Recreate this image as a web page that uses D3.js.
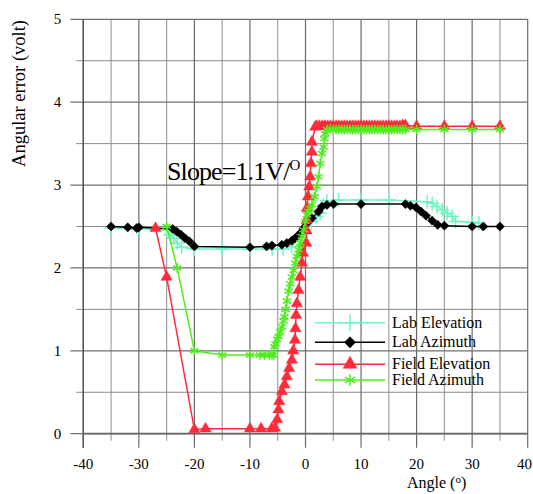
<!DOCTYPE html>
<html>
<head>
<meta charset="utf-8">
<script src="https://cdn.jsdelivr.net/npm/d3@7"></script>
<style>
  body { margin: 0; background: #fff; }
  text { font-family: "Liberation Serif", "Times New Roman", serif; }
</style>
</head>
<body>
<div id="chart"></div>
<script>
// angle (deg), angular error (volt)
const labElevation = [
  [-35, 2.48], [-30, 2.47], [-25, 2.46], [-24.4, 2.40], [-23.7, 2.36], [-23.1, 2.30], [-22.3, 2.25],
  [-20, 2.23], [-15, 2.23], [-10, 2.23], [-6, 2.23], [-4, 2.23], [-2.5, 2.26], [-1, 2.36], [0, 2.46],
  [1, 2.56], [2, 2.62], [2.65, 2.66], [3.2, 2.76], [3.85, 2.81], [5.95, 2.82], [10, 2.82], [15, 2.82],
  [21.9, 2.80], [22.8, 2.78], [23.7, 2.74], [24.6, 2.70], [25.5, 2.66], [26.4, 2.62], [27, 2.56],
  [30, 2.55], [31.2, 2.54]
];
const labAzimuth = [
  [-35, 2.5], [-32, 2.49], [-30.4, 2.48], [-30, 2.49], [-23.9, 2.47], [-23.2, 2.44], [-22.4, 2.40],
  [-21.7, 2.36], [-20.9, 2.32], [-20, 2.26], [-10, 2.25], [-7, 2.26], [-6.05, 2.27], [-4.25, 2.28],
  [-3.35, 2.30], [-2.45, 2.33], [-1.86, 2.36], [-0.95, 2.42], [-0.36, 2.48], [0.25, 2.54], [1.15, 2.60],
  [2.34, 2.68], [2.95, 2.74], [3.85, 2.76], [5.05, 2.77], [10, 2.77], [18, 2.77], [18.9, 2.75],
  [19.9, 2.73], [20.8, 2.68], [21.7, 2.63], [22.8, 2.57], [23.8, 2.52], [25, 2.51], [30, 2.5],
  [32, 2.5], [35, 2.5]
];
const fieldElevation = [
  [-27, 2.48], [-25, 1.89], [-20, 0.05], [-18, 0.06], [-10, 0.06], [-8, 0.06], [-6.1, 0.06], [-5.5, 0.07],
  [-5.1, 0.17], [-4.86, 0.29], [-4.74, 0.39], [-4.25, 0.51], [-3.78, 0.59], [-3.35, 0.69], [-2.94, 0.79],
  [-2.45, 0.89], [-2.2, 1.0], [-1.9, 1.13], [-1.8, 1.27], [-1.7, 1.43], [-1.55, 1.57], [-1.26, 1.73],
  [-0.95, 1.89], [-0.65, 2.06], [-0.47, 2.18], [0.13, 2.30], [0.2, 2.45], [0.22, 2.58], [0.25, 2.72],
  [0.43, 2.86], [0.67, 2.98], [0.85, 3.10], [0.97, 3.26], [1.15, 3.40], [1.15, 3.52], [1.75, 3.70],
  [2, 3.71], [2.5, 3.71], [3, 3.71], [3.5, 3.71], [4, 3.71], [4.5, 3.71], [5, 3.71], [5.5, 3.71],
  [6, 3.71], [6.5, 3.71], [7, 3.71], [7.5, 3.71], [8, 3.71], [8.5, 3.71], [9, 3.71], [9.5, 3.71],
  [10, 3.71], [10.5, 3.71], [11, 3.71], [11.5, 3.71], [12, 3.71], [12.5, 3.71], [13, 3.71], [13.5, 3.71],
  [14, 3.71], [14.5, 3.71], [15, 3.71], [15.5, 3.71], [16, 3.71], [16.5, 3.71], [17, 3.71], [17.5, 3.72],
  [18, 3.72], [20, 3.71], [25, 3.71], [30, 3.71], [35, 3.71]
];
const fieldAzimuth = [
  [-25, 2.5], [-23.1, 2.0], [-20, 1.0], [-15, 0.95], [-10, 0.95], [-8.2, 0.95], [-7.4, 0.95], [-6.5, 0.95],
  [-6.05, 0.95], [-5.7, 0.95], [-5.6, 1.05], [-5.4, 1.08], [-5.1, 1.14], [-4.86, 1.17], [-4.55, 1.23],
  [-4.25, 1.29], [-3.95, 1.36], [-3.8, 1.41], [-3.6, 1.50], [-3.35, 1.60], [-3.05, 1.72], [-2.76, 1.81],
  [-2.45, 1.89], [-2.16, 1.97], [-1.85, 2.06], [-1.55, 2.14], [-1.25, 2.22], [-0.95, 2.30], [-0.65, 2.38],
  [-0.36, 2.46], [-0.05, 2.56], [0.25, 2.64], [0.54, 2.68], [0.85, 2.72], [1.15, 2.76], [1.62, 2.86],
  [2.05, 2.98], [2.34, 3.10], [2.65, 3.26], [2.95, 3.38], [3.24, 3.46], [3.4, 3.56], [3.55, 3.62],
  [3.86, 3.67], [4.45, 3.68], [5, 3.67], [5.5, 3.67], [6, 3.67], [6.5, 3.67], [7, 3.67], [7.5, 3.67],
  [8, 3.67], [8.5, 3.67], [9, 3.67], [9.5, 3.67], [10, 3.67], [10.5, 3.67], [11, 3.67], [11.5, 3.67],
  [12, 3.67], [12.5, 3.67], [13, 3.67], [13.5, 3.67], [14, 3.67], [14.5, 3.67], [15, 3.67], [15.5, 3.67],
  [16, 3.67], [16.5, 3.67], [17, 3.67], [17.5, 3.67], [18, 3.67], [20, 3.67], [25, 3.67], [30, 3.67],
  [35, 3.67]
];

const xTicks = [-40, -30, -20, -10, 0, 10, 20, 30, 40];
const yTicks = [0, 1, 2, 3, 4, 5];

const series = [
  { name: "Lab Elevation", data: labElevation, color: "#70f5c2", symbol: d3.symbolPlus, size: 64, stroke: true },
  { name: "Lab Azimuth", data: labAzimuth, color: "#000000", symbol: d3.symbolSquare, size: 42, rotate: 45 },
  { name: "Field Elevation", data: fieldElevation, color: "#ff2a3a", symbol: d3.symbolTriangle, size: 55 },
  { name: "Field Azimuth", data: fieldAzimuth, color: "#4eee1c", symbol: d3.symbolAsterisk, size: 64, stroke: true }
];

const W = 533, H = 494;
const margin = { top: 19.3, right: 5.3, bottom: 60.3, left: 83.3 };
const width = W - margin.left - margin.right,
      height = H - margin.top - margin.bottom;

const svg = d3.select("#chart").append("svg")
    .attr("width", W).attr("height", H);
const g = svg.append("g")
    .attr("transform", "translate(" + margin.left + "," + margin.top + ")");

const x = d3.scaleLinear().domain([-40, 40]).range([0, width]);
const y = d3.scaleLinear().domain([0, 5]).range([height, 0]);

// grid: minor first, then major on top
const minorX = d3.range(-35, 40, 10), minorY = d3.range(0.5, 5, 1);
g.selectAll(".gxm").data(minorX).enter().append("line")
    .attr("x1", d => x(d)).attr("x2", d => x(d)).attr("y1", 0).attr("y2", height + 7)
    .attr("stroke", "#a0a0a0").attr("stroke-width", 1.2);
g.selectAll(".gym").data(minorY).enter().append("line")
    .attr("x1", -7).attr("x2", width).attr("y1", d => y(d)).attr("y2", d => y(d))
    .attr("stroke", "#8a8a8a").attr("stroke-width", 1);
g.selectAll(".gx").data(xTicks).enter().append("line")
    .attr("x1", d => x(d)).attr("x2", d => x(d)).attr("y1", 0).attr("y2", height + 14)
    .attr("stroke", "#6a6a6a").attr("stroke-width", 1.2);
g.selectAll(".gy").data(yTicks).enter().append("line")
    .attr("x1", -13).attr("x2", width).attr("y1", d => y(d)).attr("y2", d => y(d))
    .attr("stroke", "#707070").attr("stroke-width", 1.2);

// axes frame
g.append("line").attr("x1", 0).attr("x2", width).attr("y1", height).attr("y2", height)
    .attr("stroke", "#666").attr("stroke-width", 1.8);
g.append("line").attr("x1", 0).attr("x2", 0).attr("y1", 0).attr("y2", height + 14)
    .attr("stroke", "#555").attr("stroke-width", 1.4);

// tick labels (last one kept inside the page edge)
g.selectAll(".xl").data(xTicks).enter().append("text")
    .attr("x", (d, i) => i === xTicks.length - 1 ? W - margin.left - 1 : x(d))
    .attr("y", height + 35)
    .attr("text-anchor", (d, i) => i === xTicks.length - 1 ? "end" : "middle")
    .attr("font-size", 15)
    .text(d => d);
g.selectAll(".yl").data(yTicks).enter().append("text")
    .attr("x", -22).attr("y", d => y(d) + 5)
    .attr("text-anchor", "end").attr("font-size", 15)
    .text(d => d);

// axis titles
const xt = svg.append("text").attr("x", 407).attr("y", 488).attr("font-size", 16);
xt.append("tspan").text("Angle (");
xt.append("tspan").attr("font-size", 11).attr("dy", -5).text("o");
xt.append("tspan").attr("dy", 5).text(")");

svg.append("text")
    .attr("transform", "translate(25,20) rotate(-90)")
    .attr("text-anchor", "end").attr("font-size", 18.5)
    .text("Angular error (volt)");

// lines and markers
const line = d3.line().x(d => x(d[0])).y(d => y(d[1]));

function marker(sel, s) {
  sel.attr("d", d3.symbol().type(s.symbol).size(s.size))
    .attr("fill", s.stroke ? "none" : s.color)
    .attr("stroke", s.color)
    .attr("stroke-width", s.stroke ? 1.5 : 0.5);
}

series.forEach(s => {
  g.append("path").datum(s.data)
    .attr("d", line).attr("fill", "none")
    .attr("stroke", s.color).attr("stroke-width", 1.5);
  g.selectAll(null).data(s.data).enter().append("path")
    .attr("transform", d => "translate(" + x(d[0]) + "," + y(d[1]) + ")" + (s.rotate ? " rotate(" + s.rotate + ")" : ""))
    .call(marker, s);
});

// slope annotation
const sl = svg.append("text").attr("x", 167).attr("y", 180)
    .attr("font-size", 26).attr("letter-spacing", -0.9);
sl.append("tspan").text("Slope=1.1V/");
sl.append("tspan").attr("font-size", 15).attr("dy", -10).attr("letter-spacing", 0).text("O");

// legend
const legY = [322.7, 342.3, 364.3, 380];
series.forEach((s, i) => {
  const lg = svg.append("g").attr("transform", "translate(0," + legY[i] + ")");
  lg.append("line").attr("x1", 315).attr("x2", 385).attr("y1", 0).attr("y2", 0)
    .attr("stroke", s.color).attr("stroke-width", 1.5);
  lg.append("path")
    .attr("transform", "translate(350,0)" + (s.rotate ? " rotate(" + s.rotate + ")" : ""))
    .call(marker, Object.assign({}, s, { size: s.size * 1.5 }));
  lg.append("text").attr("x", 392).attr("y", 5).attr("font-size", 16).text(s.name);
});
</script>
</body>
</html>
